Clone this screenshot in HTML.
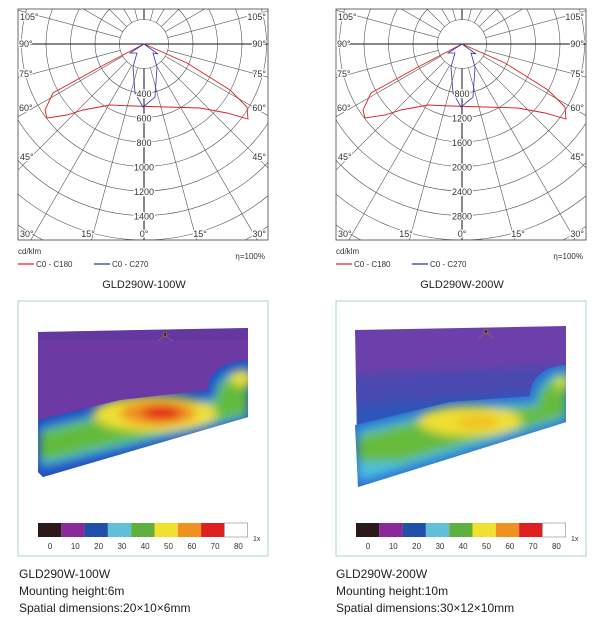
<!DOCTYPE html>
<html><head><meta charset="utf-8"><style>
body{margin:0;background:#fff;width:600px;height:626px;overflow:hidden;font-family:"Liberation Sans",sans-serif}
svg{position:absolute;left:0;top:0}
</style></head><body>
<svg id="s" width="600" height="626" viewBox="0 0 600 626" font-family="Liberation Sans, sans-serif">
<defs>
<clipPath id="c1"><rect x="18" y="9" width="250" height="231"/></clipPath>
<clipPath id="c2"><rect x="336" y="9" width="250" height="231"/></clipPath>
<filter id="bl" x="-50%" y="-50%" width="200%" height="200%"><feGaussianBlur stdDeviation="5"/></filter>
<clipPath id="h1"><polygon points="38,332 248,328 248,417 43,477 38,472"/></clipPath>
<clipPath id="f1"><path d="M38,420 L120,400 L208,390 C208,372 222,362 248,360 L248,417 L43,477 L38,472 Z"/></clipPath>
<clipPath id="h2"><polygon points="355,330 566,326 566,422 358,487"/></clipPath>
<clipPath id="f2"><path d="M355,425 L450,402 L530,396 C530,378 545,366 566,365 L566,422 L358,487 Z"/></clipPath>
</defs>
<g id="g"></g>

<!-- heatmap 1 -->
<rect x="18" y="301" width="250" height="255" fill="none" stroke="#9fd4d0" stroke-width="1"/>
<g clip-path="url(#h1)">
<rect x="30" y="320" width="230" height="170" fill="#6c3aa2"/>
<rect x="30" y="320" width="230" height="20" fill="#5e34a0" opacity="0.5"/>
</g>
<g clip-path="url(#f1)">
<rect x="30" y="355" width="230" height="130" fill="#2050c0"/>
<g filter="url(#bl)">
<path d="M40,428 L120,408 L214,398 C214,378 226,370 248,368 L248,418 L48,466 L40,466 Z" fill="#4cc0e0"/>
<path d="M40,432 L120,412 L216,402 C216,382 228,374 248,372 L248,414 L50,460 L40,460 Z" fill="#62bb3c"/>
<ellipse cx="242" cy="378" rx="12" ry="8" fill="#f0e030"/>
<ellipse cx="155" cy="414" rx="62" ry="18" fill="#f0e030"/>
<ellipse cx="158" cy="413" rx="38" ry="12" fill="#f08a20"/>
<ellipse cx="162" cy="413" rx="20" ry="7" fill="#e01818"/>
</g>
</g>
<g transform="translate(165,338)" stroke="#a07050" fill="none" stroke-width="0.6"><path d="M-8,3 L0,-2 L8,3 M-4,-3 h8"/><rect x="-1.5" y="-5" width="3" height="3" fill="#222"/></g>

<!-- heatmap 2 -->
<rect x="336" y="301" width="250" height="255" fill="none" stroke="#9fd4d0" stroke-width="1"/>
<g clip-path="url(#h2)">
<rect x="350" y="320" width="230" height="170" fill="#6c40aa"/>
<g filter="url(#bl)">
<polygon points="350,375 570,365 570,440 350,440" fill="#4a48b0"/>
<polygon points="350,405 570,390 570,440 350,440" fill="#2f55b8"/>
</g>
</g>
<g clip-path="url(#f2)">
<rect x="350" y="360" width="230" height="130" fill="#2a70d0"/>
<g filter="url(#bl)">
<path d="M358,430 L450,408 L536,402 C536,384 548,374 566,372 L566,420 L365,480 L358,480 Z" fill="#4cc0e0"/>
<path d="M358,436 L450,412 L538,406 C538,388 550,378 566,376 L566,416 L400,462 L358,462 Z" fill="#66bb3c"/>
<ellipse cx="562" cy="382" rx="8" ry="8" fill="#c8e030"/>
<ellipse cx="470" cy="421" rx="52" ry="15" fill="#f0e030"/>
<ellipse cx="478" cy="422" rx="22" ry="7" fill="#f0c020"/>
</g>
</g>
<g transform="translate(486,335)" stroke="#a07050" fill="none" stroke-width="0.6"><path d="M-8,3 L0,-2 L8,3 M-4,-3 h8"/><rect x="-1.5" y="-5" width="3" height="3" fill="#222"/></g>

<g id="bars"></g>
<g font-size="12" fill="#222">
<text x="19" y="578">GLD290W-100W</text>
<text x="19" y="595">Mounting height:6m</text>
<text x="19" y="612">Spatial dimensions:20×10×6mm</text>
<text x="336" y="578">GLD290W-200W</text>
<text x="336" y="595">Mounting height:10m</text>
<text x="336" y="612">Spatial dimensions:30×12×10mm</text>
</g>
</svg>
<script>
const NS="http://www.w3.org/2000/svg",g=document.getElementById('g');
function el(t,a,p,txt){const e=document.createElementNS(NS,t);for(const k in a)e.setAttribute(k,a[k]);if(txt!==undefined)e.textContent=txt;(p||g).appendChild(e);return e;}
function polar(ox,clip,labels,title){
 const cx=ox+126,cy=44,box=el('g',{'clip-path':'url(#'+clip+')'});
 for(let k=1;k<14;k++)el('circle',{cx,cy,r:24.5*k,fill:'none',stroke:'#555','stroke-width':0.6},box);
 for(let a=0;a<360;a+=15){const r=a*Math.PI/180;el('line',{x1:cx+24.5*Math.cos(r),y1:cy+24.5*Math.sin(r),x2:cx+400*Math.cos(r),y2:cy+400*Math.sin(r),stroke:'#555','stroke-width':0.6},box);}
 el('line',{x1:ox,y1:cy,x2:ox+250,y2:cy,stroke:'#111','stroke-width':1},box);
 el('line',{x1:cx,y1:0,x2:cx,y2:19.5,stroke:'#111','stroke-width':1},box);
 el('line',{x1:cx,y1:68.5,x2:cx,y2:241,stroke:'#111','stroke-width':1},box);
 el('rect',{x:ox,y:9,width:250,height:231,fill:'none',stroke:'#444','stroke-width':0.8});
 const d=ox-18;
 el('path',{d:`M${144+d},44 L${100+d},67 L${53+d},93 L${45+d},110 L${47+d},118 L${67+d},115 L${83+d},110 L${110+d},105 L${133+d},106 L${167+d},107 L${200+d},108 L${227+d},113 L${248+d},119 L${247+d},107 L${230+d},90 L${187+d},63 Z`,fill:'none',stroke:'#d22','stroke-width':0.9});
 el('path',{d:`M${144+d},44 L${130+d},53 L${137+d},53 L${133+d},67 L${135+d},93 L${143+d},107 L${155+d},97 L${157+d},67 L${153+d},53 L${158+d},54 Z`,fill:'none',stroke:'#33a','stroke-width':0.8});
 const T=(x,y,s,anc)=>{el('text',{x,y,'font-size':9,fill:'#333','text-anchor':anc||'start',stroke:'#fff','stroke-width':2.5,'paint-order':'stroke'},g,s);};
 T(ox+2,20,'105°');T(ox+248,20,'105°','end');T(ox+1,47,'90°');T(ox+248,47,'90°','end');
 T(ox+1,77,'75°');T(ox+248,77,'75°','end');T(ox+1,111,'60°');T(ox+248,111,'60°','end');
 T(ox+2,160,'45°');T(ox+248,160,'45°','end');T(ox+2,237,'30°');T(ox+248,237,'30°','end');
 T(ox+70,237,'15°','middle');T(ox+182,237,'15°','middle');T(ox+126,237,'0°','middle');
 labels.forEach((s,i)=>T(cx,97+24.5*i,s,'middle'));
 el('text',{x:ox,y:254,'font-size':8,fill:'#333'},g,'cd/klm');
 el('line',{x1:ox,y1:264,x2:ox+16,y2:264,stroke:'#d22','stroke-width':1.2});
 el('text',{x:ox+18,y:267,'font-size':8,fill:'#333'},g,'C0 - C180');
 el('line',{x1:ox+76,y1:264,x2:ox+92,y2:264,stroke:'#238','stroke-width':1.2});
 el('text',{x:ox+94,y:267,'font-size':8,fill:'#333'},g,'C0 - C270');
 el('text',{x:ox+247,y:259,'font-size':8,fill:'#333','text-anchor':'end'},g,'η=100%');
 el('text',{x:cx,y:288,'font-size':11,fill:'#222','text-anchor':'middle'},g,title);
}
polar(18,'c1',['400','600','800','1000','1200','1400'],'GLD290W-100W');
polar(336,'c2',['800','1200','1600','2000','2400','2800'],'GLD290W-200W');
const cols=['#2a1a1a','#8a2a98','#2050a8','#60c0d8','#60b040','#f0e030','#f09020','#e02020','#ffffff'],lab=['0','10','20','30','40','50','60','70','80'];
const bars=document.getElementById('bars');
[38,356].forEach(x0=>{cols.forEach((c,i)=>el('rect',{x:x0+i*23.3,y:523,width:23.3,height:14,fill:c,stroke:i==8?'#888':'none','stroke-width':0.6},bars));
 lab.forEach((s,i)=>el('text',{x:x0+12+i*(i==0?0:23.3)+(i?2:0),y:549,'font-size':8,fill:'#333','text-anchor':'middle'},bars,s));
 el('text',{x:x0+215,y:541,'font-size':7,fill:'#333'},bars,'1x');});
</script>
</body></html>
